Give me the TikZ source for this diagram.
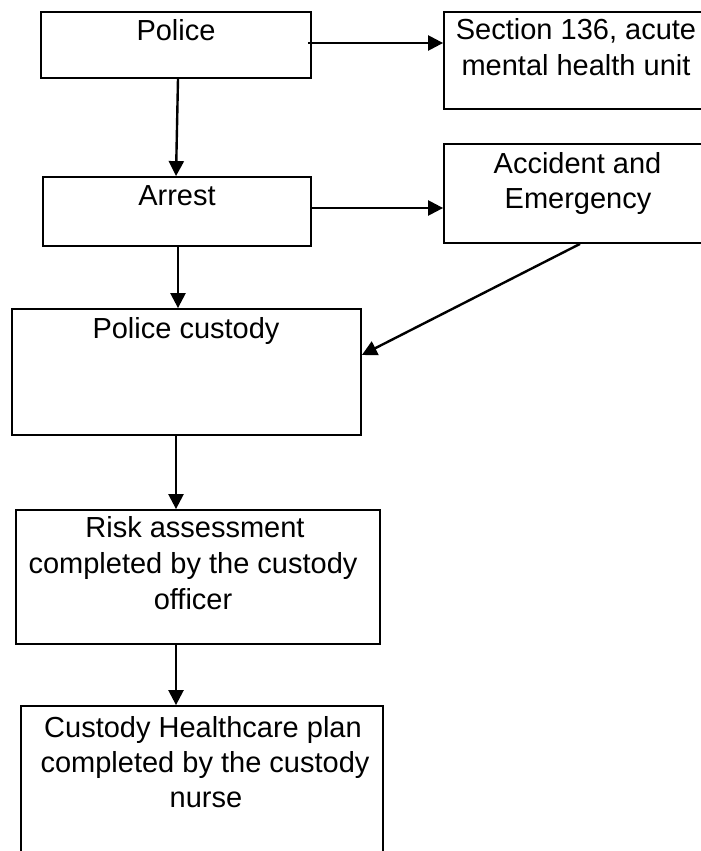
\documentclass[tikz,border=0pt]{standalone}
\usepackage{fontspec}
\setmainfont{Liberation Sans}
\usetikzlibrary{arrows.meta}

\begin{document}
\begin{tikzpicture}[x=1pt,y=-1pt,
  box/.style={draw=black, line width=1.8pt, inner sep=0pt, fill=none},
  txt/.style={anchor=base, inner sep=0pt, font=\fontsize{29}{34}\selectfont},
  arr/.style={line width=2.4pt, -{Triangle[length=15pt,width=15pt]}}]
  \useasboundingbox (0,0) rectangle (701,851);
  \clip (0,0) rectangle (701,851);

  % boxes
  \node[box, minimum width=270pt, minimum height=66pt]  (police)   at (176,45)    {};
  \node[box, minimum width=266pt, minimum height=97pt]  (section)  at (577,60.5)  {};
  \node[box, minimum width=268pt, minimum height=69pt]  (arrest)   at (177,211.5) {};
  \node[box, minimum width=266pt, minimum height=99pt]  (accident) at (577,193.5) {};
  \node[box, minimum width=349pt, minimum height=126pt] (custody)  at (186.5,372) {};
  \node[box, minimum width=364pt, minimum height=134pt] (risk)     at (198,577)   {};
  \node[box, minimum width=362pt, minimum height=174pt] (health)   at (202,793)   {};

  % labels
  \node[txt] (police-t)    at (176,41)   {Police};
  \node[txt] (section-t1)  at (576,40)   {Section 136, acute};
  \node[txt] (section-t2)  at (576,76)   {mental health unit};
  \node[txt] (arrest-t)    at (177,205)  {Arrest};
  \node[txt] (accident-t1) at (577.5,173) {Accident and};
  \node[txt] (accident-t2) at (578,208)  {Emergency};
  \node[txt] (custody-t)   at (186,338)  {Police custody};
  \node[txt] (risk-t1)     at (195,537)  {Risk assessment};
  \node[txt] (risk-t2)     at (193,573)  {completed by the custody};
  \node[txt] (risk-t3)     at (193,609)  {officer};
  \node[txt] (health-t1)   at (203,737)  {Custody Healthcare plan};
  \node[txt] (health-t2)   at (205,772)  {completed by the custody};
  \node[txt] (health-t3)   at (206,807)  {nurse};

  % connectors
  \coordinate (p1) at ([xshift=-4pt,yshift=2pt]police.east);
  \draw[arr] (p1) -- (p1 -| section.west);
  \draw[arr] ([xshift=2pt]police.south) -- ([xshift=-1pt]arrest.north);
  \coordinate (a1) at ([yshift=3.5pt]arrest.east);
  \draw[arr] (a1) -- (a1 -| accident.west);
  \coordinate (a2) at ([xshift=1pt]arrest.south);
  \draw[arr] (a2) -- (a2 |- custody.north);
  \draw[arr] ([xshift=3pt]accident.south) -- ([yshift=17pt]custody.east);
  \coordinate (c1) at ([xshift=-10.5pt]custody.south);
  \draw[arr] (c1) -- (c1 |- risk.north);
  \coordinate (r1) at ([xshift=-22pt]risk.south);
  \draw[arr] (r1) -- (r1 |- health.north);
\end{tikzpicture}
\end{document}
